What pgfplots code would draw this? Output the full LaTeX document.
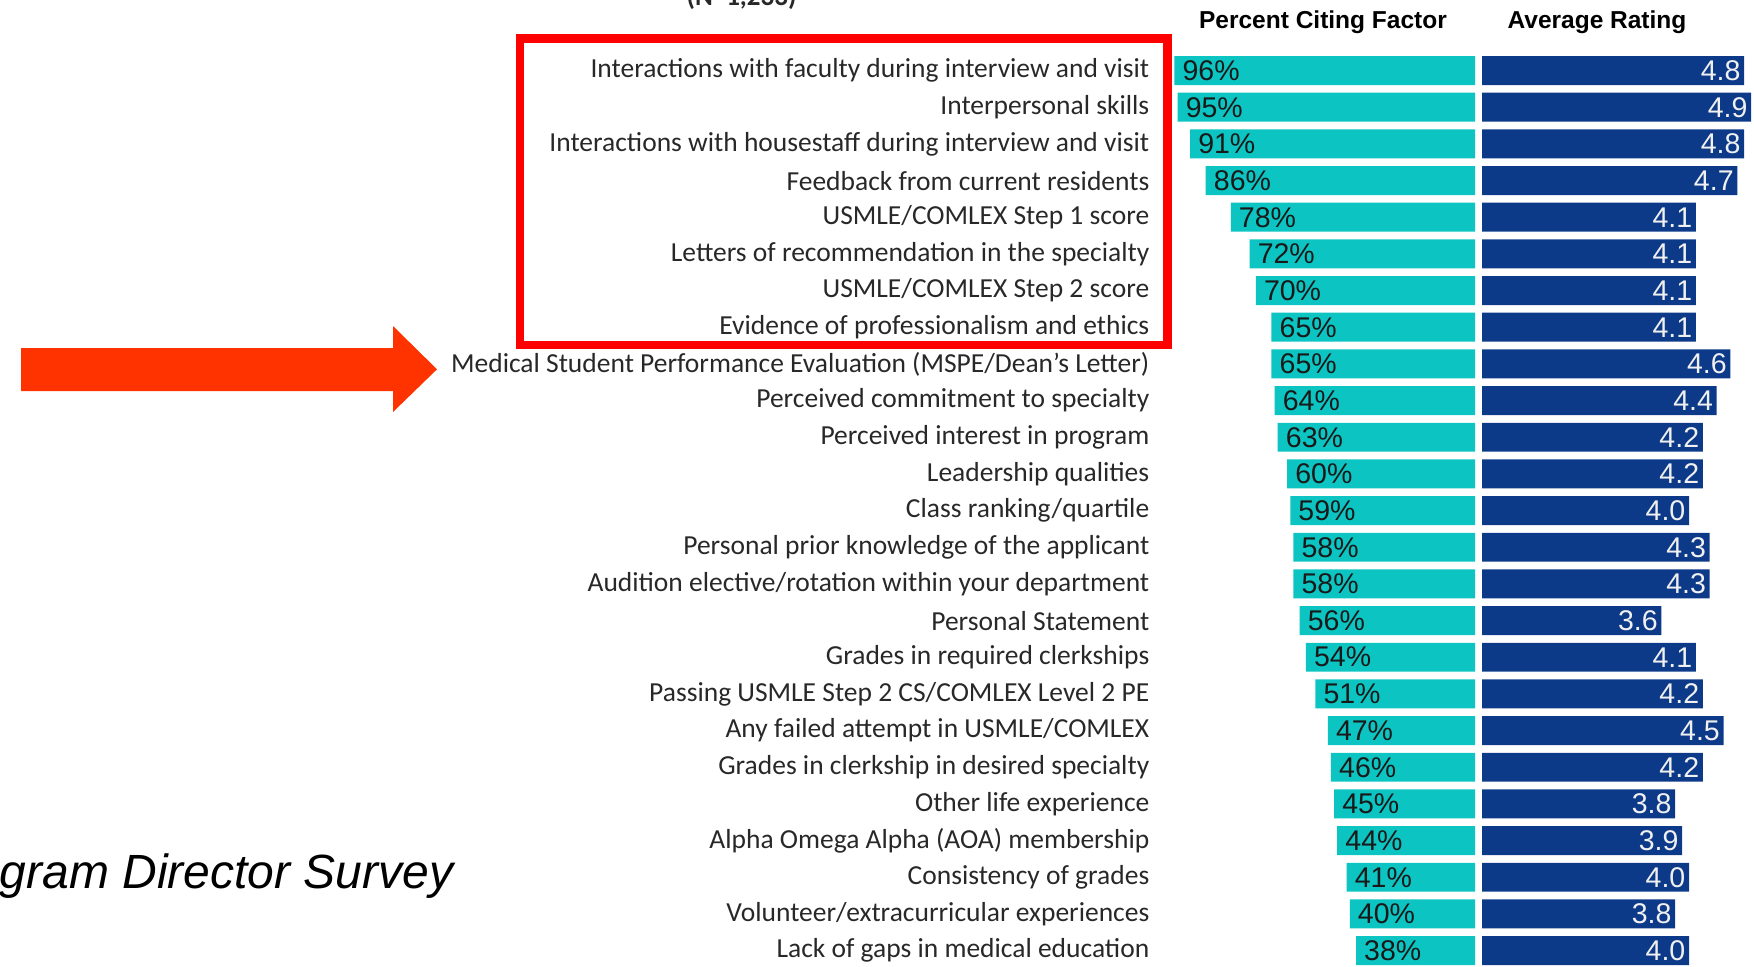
\documentclass[border=0pt]{standalone}
\usepackage{pgfplots}
\pgfplotsset{compat=1.18}
\usepackage{pgfplotstable}
\usepackage{fontspec}
\setmainfont{Carlito}
\newfontfamily\arial{Liberation Sans}
\definecolor{tealbar}{RGB}{12,196,194}
\definecolor{navybar}{RGB}{12,58,136}
\definecolor{arrowred}{RGB}{255,51,0}
\definecolor{labeltext}{RGB}{40,40,40}

\pgfplotstableread{
idx pct rating
1 96 4.8
2 95 4.9
3 91 4.8
4 86 4.7
5 78 4.1
6 72 4.1
7 70 4.1
8 65 4.1
9 65 4.6
10 64 4.4
11 63 4.2
12 60 4.2
13 59 4.0
14 58 4.3
15 58 4.3
16 56 3.6
17 54 4.1
18 51 4.2
19 47 4.5
20 46 4.2
21 45 3.8
22 44 3.9
23 41 4.0
24 40 3.8
25 38 4.0
}\datatable

\begin{document}
\begin{tikzpicture}
\useasboundingbox (0,0) rectangle (175.4mm,-96.6mm);
\clip (0,0) rectangle (175.4mm,-96.6mm);

% Percent citing factor
\begin{axis}[
  at={(115mm,-5.22mm)}, anchor=north west,
  scale only axis, width=32.5mm, height=91.67mm,
  xbar, bar width=0.79, bar shift=0pt,
  x dir=reverse, xmin=0, xmax=103.8,
  y dir=reverse, ymin=0.5, ymax=25.5,
  axis line style={draw=none}, major tick length=0pt,
  xtick=\empty,
  ytick={1,...,25},
  yticklabels={
    Interactions with faculty during interview and visit,
    Interpersonal skills,
    Interactions with housestaff during interview and visit,
    Feedback from current residents,
    USMLE/COMLEX Step 1 score,
    Letters of recommendation in the specialty,
    USMLE/COMLEX Step 2 score,
    Evidence of professionalism and ethics,
    Medical Student Performance Evaluation (MSPE/Dean's Letter),
    Perceived commitment to specialty,
    Perceived interest in program,
    Leadership qualities,
    Class ranking/quartile,
    Personal prior knowledge of the applicant,
    Audition elective/rotation within your department,
    Personal Statement,
    Grades in required clerkships,
    Passing USMLE Step 2 CS/COMLEX Level 2 PE,
    Any failed attempt in USMLE/COMLEX,
    Grades in clerkship in desired specialty,
    Other life experience,
    Alpha Omega Alpha (AOA) membership,
    Consistency of grades,
    Volunteer/extracurricular experiences,
    Lack of gaps in medical education},
  yticklabel style={anchor=east, inner sep=0pt, text=labeltext,
    font=\fontsize{2.75mm}{3.2mm}\selectfont},
  point meta=x,
  /pgf/number format/assume math mode=true,
  nodes near coords={\pgfmathprintnumber{\pgfplotspointmeta}\%},
  every node near coord/.append style={anchor=west, inner sep=0pt, xshift=0.75mm,
    text=black!90, font=\arial\fontsize{2.85mm}{3.2mm}\selectfont},
]
\addplot[fill=tealbar, draw=none] table[x=pct, y=idx]{\datatable};
\end{axis}

% Average rating
\begin{axis}[
  at={(148.2mm,-5.22mm)}, anchor=north west,
  scale only axis, width=27.6mm, height=91.67mm,
  xbar, bar width=0.79, bar shift=0pt,
  xmin=1, xmax=5,
  y dir=reverse, ymin=0.5, ymax=25.5,
  axis line style={draw=none}, major tick length=0pt,
  xtick=\empty, ytick=\empty,
  point meta=x,
  /pgf/number format/assume math mode=true,
  nodes near coords={\pgfmathprintnumber[fixed,fixed zerofill,precision=1]{\pgfplotspointmeta}},
  every node near coord/.append style={anchor=east, inner sep=0pt, xshift=-0.3mm,
    text=white!94!black, font=\arial\fontsize{2.85mm}{3.2mm}\selectfont},
]
\addplot[fill=navybar, draw=none] table[x=rating, y=idx]{\datatable};
\end{axis}

% headers
\node[anchor=base, font=\arial\bfseries\fontsize{2.45mm}{3mm}\selectfont] at (132.3mm,-2.85mm) {Percent Citing Factor};
\node[anchor=base, font=\arial\bfseries\fontsize{2.45mm}{3mm}\selectfont] at (159.7mm,-2.85mm) {Average Rating};

% partially visible title line (cut at the top edge, as in the reference)
\node[anchor=base, text=labeltext, font=\bfseries\fontsize{2.7mm}{3.2mm}\selectfont] at (74.15mm,-0.55mm) {(N=1,233)};

% red highlight box
\draw[red, line width=0.83mm] (52.0mm,-3.85mm) rectangle (116.75mm,-34.5mm);

% arrow
\fill[arrowred] (2.1mm,-34.8mm) -- (39.3mm,-34.8mm) -- (39.3mm,-32.6mm) -- (43.7mm,-36.93mm)
  -- (39.3mm,-41.2mm) -- (39.3mm,-39.1mm) -- (2.1mm,-39.1mm) -- cycle;

% source text, cut at the left edge
\node[anchor=base east, inner sep=0pt, font=\arial\itshape\fontsize{4.8mm}{6mm}\selectfont] at (45.4mm,-88.8mm) {Program Director Survey};
\end{tikzpicture}
\end{document}
